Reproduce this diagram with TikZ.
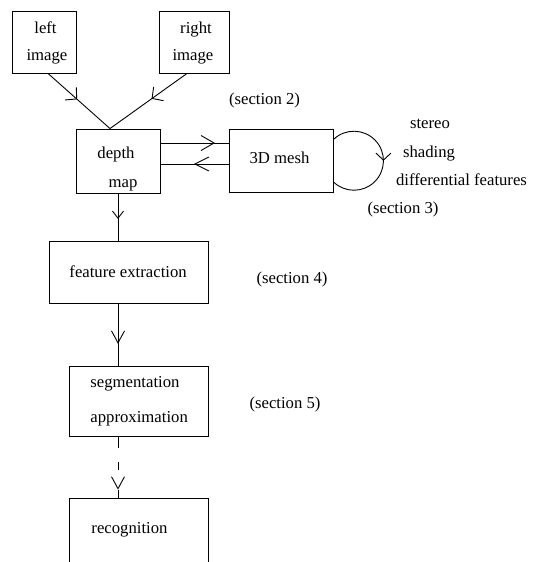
\documentclass[tikz,border=0pt]{standalone}
\usepackage{fontspec}
\setmainfont{Liberation Serif}
\usetikzlibrary{arrows.meta,decorations.markings,calc}
\begin{document}
\begin{tikzpicture}[x=1pt,y=-1pt,line width=0.9pt,
  box/.style={draw,rectangle,inner sep=0pt},
  txt/.style={inner sep=0pt,anchor=base,font=\fontsize{16.7}{20}\selectfont},
  txtl/.style={txt,anchor=base west},
  midbarb/.style n args={3}{postaction={decorate,solid},
    decoration={markings,mark=at position #1 with {\arrow{Straight Barb[length=#2,width=#3]}}}},
  midarrow/.style={midbarb={#1}{12pt}{15pt}},
]
\useasboundingbox (0,0) rectangle (534,562);

% boxes
\node[box,minimum width=64pt,minimum height=62pt] (leftbox) at (44,42) {};
\node[box,minimum width=70pt,minimum height=62pt] (rightbox) at (194,42) {};
\node[box,minimum width=84pt,minimum height=64pt] (depth) at (118,161) {};
\node[box,minimum width=104pt,minimum height=63pt] (mesh) at (281,160.5) {};
\node[box,minimum width=159pt,minimum height=62pt] (feature) at (128.5,272) {};
\node[box,minimum width=139pt,minimum height=70pt] (seg) at (138.5,401) {};
\node[box,minimum width=139pt,minimum height=102pt] (recog) at (138.5,549) {};

% box texts
\node[txt] (t-left) at (45.5,33) {left};
\node[txt] (t-limage) at (47,60) {image};
\node[txt] (t-right) at (196,33) {right};
\node[txt] (t-rimage) at (193,60) {image};
\node[txt] (t-depth) at (116,158) {depth};
\node[txt] (t-map) at (123,187) {map};
\node[txt] (t-mesh) at (279.5,163) {3D mesh};
\node[txtl] (t-feature) at (69,277) {feature extraction};
\node[txtl] (t-seg) at (90,387) {segmentation};
\node[txtl] (t-approx) at (90,422) {approximation};
\node[txtl] (t-recog) at (91,533) {recognition};

% side texts
\node[txt] (t-stereo) at (430,128) {stereo};
\node[txt] (t-shading) at (429,157) {shading};
\node[txt] (t-diff) at (461.5,185) {differential features};
\node[txt] (s2) at (264.5,104) {(section 2)};
\node[txt] (s3) at (403,213) {(section 3)};
\node[txt] (s4) at (292,283) {(section 4)};
\node[txt] (s5) at (285,408) {(section 5)};

% connectors
\draw[midbarb={0.47}{8pt}{17pt}] ([xshift=4pt]leftbox.south) -- ([xshift=-8pt]depth.north);
\draw[midbarb={0.46}{8pt}{17pt}] ([xshift=-7pt]rightbox.south) -- ([xshift=-8pt]depth.north);
\draw[midbarb={0.80}{13pt}{15pt}] ([yshift=18pt]depth.east) -- ([yshift=18pt]depth.east -| mesh.west);
\draw[midbarb={0.51}{14pt}{14pt}] ([yshift=-3pt]depth.east -| mesh.west) -- ([yshift=-3pt]depth.east);
\draw[midbarb={0.54}{7pt}{11pt}] (depth.south) -- (depth.south |- feature.north);
\draw[midbarb={0.65}{12pt}{13pt}] (feature.south -| depth.south) -- (seg.north -| depth.south);
\draw[dash pattern=on 12pt off 14pt on 8pt off 20pt on 30pt,midbarb={0.87}{12pt}{13pt}]
  (seg.south -| depth.south) -- (recog.north -| depth.south);

% loop on 3D mesh
\coordinate (loopstart) at ([yshift=21pt]mesh.east);
\draw[midbarb={0.5}{7pt}{15pt}] (loopstart) arc[start angle=134,end angle=-134,radius=29.5pt];
\end{tikzpicture}
\end{document}
